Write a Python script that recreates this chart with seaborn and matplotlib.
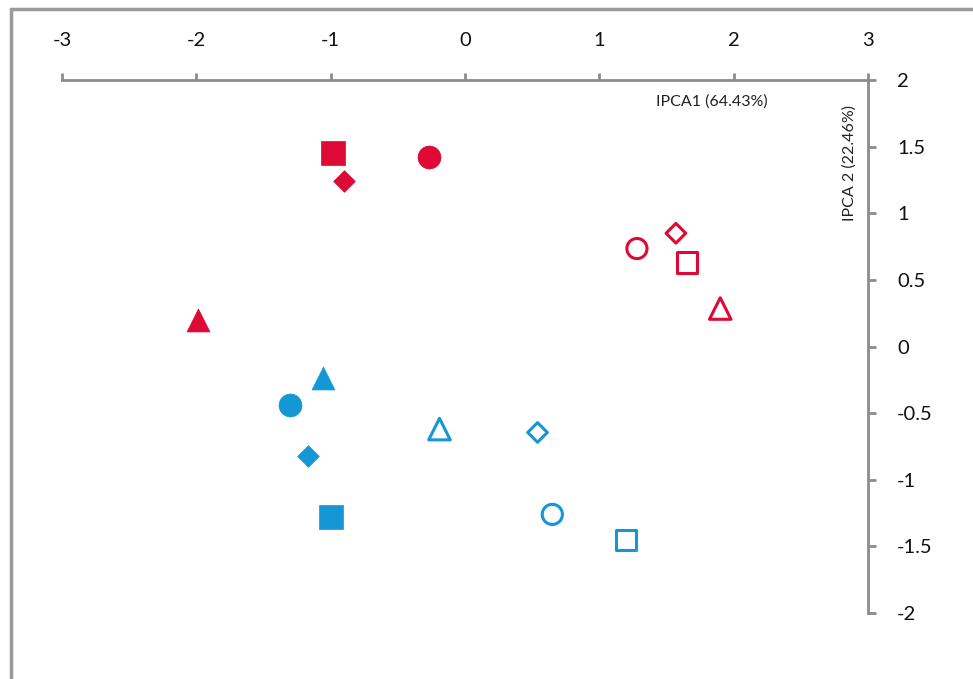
import matplotlib
matplotlib.use("Agg")
import matplotlib.pyplot as plt
import seaborn as sns
import pandas as pd
from matplotlib.lines import Line2D

# ---- data ----
x_vals = [-0.98, -0.90, -0.27, -1.99, 1.28, 1.57, 1.65, 1.90,
          -1.06, -1.30, -1.17, -1.00, -0.19, 0.54, 0.65, 1.20]
y_vals = [1.455, 1.245, 1.42, 0.20, 0.735, 0.85, 0.63, 0.285,
          -0.24, -0.44, -0.825, -1.28, -0.62, -0.645, -1.26, -1.455]
groups = ["red"] * 8 + ["blue"] * 8
shapes = ["square", "diamond", "circle", "triangle", "circle", "diamond", "square", "triangle",
          "triangle", "circle", "diamond", "square", "triangle", "diamond", "circle", "square"]
filled = [True, True, True, True, False, False, False, False,
          True, True, True, True, False, False, False, False]
x_ticks = [-3, -2, -1, 0, 1, 2, 3]
y_ticks = [-2, -1.5, -1, -0.5, 0, 0.5, 1, 1.5, 2]
y_tick_labels = ["-2", "-1.5", "-1", "-0.5", "0", "0.5", "1", "1.5", "2"]
x_title = "IPCA1 (64.43%)"
y_title = "IPCA 2 (22.46%)"

df = pd.DataFrame({"x": x_vals, "y": y_vals, "group": groups,
                   "shape": shapes, "filled": filled})

colors = {"red": "#DC0A35", "blue": "#1597D6"}
marker_map = {"square": "s", "diamond": "D", "circle": "o", "triangle": "^"}
size_filled = {"square": 17.0 ** 2, "diamond": 11.0 ** 2, "circle": 16.5 ** 2, "triangle": 16.5 ** 2}
size_open = {"square": 14.5 ** 2, "diamond": 10.0 ** 2, "circle": 14.5 ** 2, "triangle": 15.5 ** 2}

sns.set_style("white")
plt.rcParams["font.family"] = ["Lato", "DejaVu Sans"]

fig = plt.figure(figsize=(9.73, 6.79), dpi=100)
ax = fig.add_axes([62 / 973, 1 - 613 / 679, (868 - 62) / 973, (613 - 80) / 679])

for _, r in df.iterrows():
    c = colors[r["group"]]
    m = marker_map[r["shape"]]
    if r["filled"]:
        sns.scatterplot(x=[r["x"]], y=[r["y"]], marker=m, s=size_filled[r["shape"]],
                        facecolor=c, edgecolor=c, linewidth=0.5, ax=ax, zorder=3)
    else:
        sns.scatterplot(x=[r["x"]], y=[r["y"]], marker=m, s=size_open[r["shape"]],
                        facecolor="none", edgecolor=c, linewidth=2.2, ax=ax, zorder=3)

ax.set_xlim(-3, 3)
ax.set_ylim(-2, 2)
ax.set_xlabel("")
ax.set_ylabel("")

spine_c = "#8C8C8C"
for s in ["left", "bottom"]:
    ax.spines[s].set_visible(False)
for s in ["top", "right"]:
    ax.spines[s].set_visible(True)
    ax.spines[s].set_color(spine_c)
    ax.spines[s].set_linewidth(2.0)

ax.xaxis.set_ticks_position("top")
ax.xaxis.set_label_position("top")
ax.yaxis.set_ticks_position("right")
ax.set_xticks(x_ticks)
ax.set_xticklabels([str(t) for t in x_ticks])
ax.set_yticks(y_ticks)
ax.set_yticklabels(y_tick_labels)
ax.tick_params(axis="x", direction="out", length=5, width=2.0, color=spine_c,
               labelsize=14.5, pad=17, labelcolor="#111111")
ax.tick_params(axis="y", direction="out", length=6, width=2.0, color=spine_c,
               labelsize=14.5, pad=15, labelcolor="#111111")
ax.grid(False)

ax.text(1.84, 1.835, x_title, fontsize=11.5, ha="center", va="center", color="#222222")
ax.text(2.86, 1.375, y_title, fontsize=11.5, ha="center", va="center", rotation=90,
        color="#222222")

# outer chart border (partially outside the image)
fig.add_artist(Line2D([11 / 973, 11 / 973], [0, 1 - 9 / 679], color="#9A9A9A",
                      linewidth=2.5, transform=fig.transFigure))
fig.add_artist(Line2D([11 / 973, 1], [1 - 9 / 679, 1 - 9 / 679], color="#9A9A9A",
                      linewidth=2.5, transform=fig.transFigure))

fig.savefig("out.png", dpi=100)
